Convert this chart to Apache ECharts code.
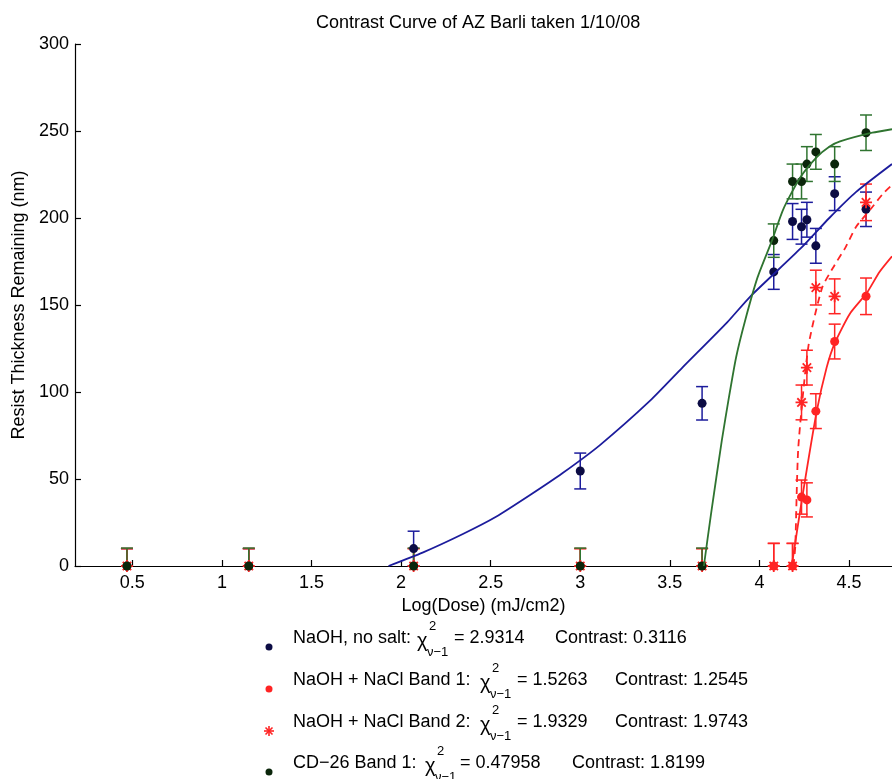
<!DOCTYPE html>
<html>
<head>
<meta charset="utf-8">
<script src="https://cdn.jsdelivr.net/npm/echarts@6/dist/echarts.min.js"></script>
<style>
  html, body { margin: 0; padding: 0; background: #fff; }
  #chart { width: 892px; height: 779px; }
</style>
</head>
<body>
<div id="chart"></div>
<script>
  // measured doses (log mJ/cm2)
  const doses = [0.47, 1.15, 2.07, 3.0, 3.68, 4.08, 4.185, 4.235, 4.265, 4.315, 4.42, 4.595];

  const noSalt = [0, 0, 10, 54.6, 93.5, 169, 198, 195, 199, 184, 214, 205];
  const noSaltErr = [10, 10, 10, 10.3, 9.6, 10, 10.3, 10, 10, 10, 9.7, 9.9];

  const bandOne = [0, 0, 0, 0, 0, 0, 0, 39.6, 38, 89, 129, 155];
  const bandOneErr = [10, 10, 10, 10, 10, 13, 13, 9.8, 9.8, 10, 10, 10.5];

  const bandTwo = [0, 0, 0, 0, 0, 0, 0, 94, 114, 160, 155, 209];
  const bandTwoErr = [10, 10, 10, 10, 10, 13, 13, 10, 10, 10, 10, 10.5];

  const cd26 = [0, 0, 0, 0, 0, 187, 221, 221, 231, 238, 231, 249];
  const cd26Err = [10.3, 10.3, 10.3, 10.3, 10.3, 9.6, 10, 10, 10, 10, 10, 10.2];

  // fitted curves
  const noSaltFit = [[1.93, 0], [2.12, 7.7], [2.345, 18.4], [2.53, 28.3], [2.72, 40.8], [2.9, 53.3],
    [3.11, 69.5], [3.39, 95], [3.57, 114], [3.82, 140], [3.95, 155], [4.23, 182.5], [4.39, 200],
    [4.54, 215], [4.74, 231]];
  const cd26Fit = [[3.69, 0], [3.73, 30], [3.79, 72], [3.83, 97], [3.87, 120], [3.92, 141], [3.99, 166],
    [4.07, 187], [4.133, 205], [4.226, 223], [4.32, 235], [4.39, 241], [4.45, 244], [4.63, 249], [4.74, 251]];
  const bandOneFit = [[4.18, 0], [4.24, 40], [4.32, 89], [4.375, 114], [4.42, 128], [4.505, 145],
    [4.6, 157], [4.67, 169], [4.74, 178]];
  const bandTwoFit = [[4.19, 0], [4.2, 11], [4.217, 68], [4.273, 126], [4.35, 160], [4.42, 173],
    [4.48, 183], [4.54, 195], [4.62, 205], [4.69, 214], [4.74, 219]];

  const xTicks = [0.5, 1, 1.5, 2, 2.5, 3, 3.5, 4, 4.5];

  // legend text
  const legendNames = ['NaOH, no salt:', 'NaOH + NaCl Band 1:', 'NaOH + NaCl Band 2:', 'CD\u221226 Band 1:'];
  const chiValues = ['2.9314', '1.5263', '1.9329', '0.47958'];
  const contrastValues = ['0.3116', '1.2545', '1.9743', '1.8199'];

  const FONT = '"Liberation Sans", Arial, Helvetica, sans-serif';
  const BLUE = '#1c1c9c';
  const BLUE_DOT = '#0c0c44';
  const RED = '#ff2424';
  const GREEN = '#2f7430';
  const GREEN_DOT = '#0b260b';
  const STAR = 'path://M5,0L5,10M0,5L10,5M1.5,1.5L8.5,8.5M1.5,8.5L8.5,1.5';

  const pts = (ys) => doses.map((d, i) => [d, ys[i]]);
  const errs = (ys, es) => doses.map((d, i) => [d, ys[i], es[i]]);

  function errorSeries(ys, es, color) {
    return {
      type: 'custom',
      data: errs(ys, es),
      encode: { x: 0, y: 1 },
      clip: true,
      silent: true,
      renderItem: function (params, api) {
        const x = api.value(0), y = api.value(1), e = api.value(2);
        const top = api.coord([x, y + e]);
        const bot = api.coord([x, y - e]);
        const w = 6;
        const style = { stroke: color, lineWidth: 1.5 };
        return {
          type: 'group',
          children: [
            { type: 'line', shape: { x1: top[0], y1: top[1], x2: bot[0], y2: bot[1] }, style: style },
            { type: 'line', shape: { x1: top[0] - w, y1: top[1], x2: top[0] + w, y2: top[1] }, style: style },
            { type: 'line', shape: { x1: bot[0] - w, y1: bot[1], x2: bot[0] + w, y2: bot[1] }, style: style },
          ],
        };
      },
    };
  }

  function fitSeries(data, color, dashed) {
    return {
      type: 'line',
      data: data,
      smooth: 0.2,
      showSymbol: false,
      silent: true,
      lineStyle: { color: color, width: 1.8, type: dashed ? [7, 5] : 'solid' },
    };
  }

  // legend rows drawn as graphic text (chi-squared needs stacked sup/sub)
  const rowY = [638, 680, 722, 763];
  const chiX = [417, 480, 480, 425];
  const eqX = [454, 517, 517, 460];
  const contrastX = [555, 615, 615, 572];
  const legendGraphics = [];
  const txt = (x, y, s, size) => ({
    type: 'text', x: x, y: y,
    style: { text: s, fill: '#000', font: size + 'px ' + FONT, textVerticalAlign: 'middle' },
  });
  legendNames.forEach((name, i) => {
    const y = rowY[i];
    legendGraphics.push(txt(293, y, name, 18));
    legendGraphics.push(txt(chiX[i], y + 3, '\u03c7', 20));
    legendGraphics.push(txt(chiX[i] + 12, y - 12, '2', 13));
    legendGraphics.push(txt(chiX[i] + 10, y + 14, '\u03bd\u22121', 13));
    legendGraphics.push(txt(eqX[i], y, '= ' + chiValues[i], 18));
    legendGraphics.push(txt(contrastX[i], y, 'Contrast: ' + contrastValues[i], 18));
  });
  const markerColors = [BLUE_DOT, RED, RED, GREEN_DOT];
  markerColors.forEach((c, i) => {
    const y = rowY[i] + 9;
    if (i === 2) {
      const s = { stroke: RED, lineWidth: 1.6 };
      legendGraphics.push({
        type: 'group', x: 269, y: y,
        children: [
          { type: 'line', shape: { x1: 0, y1: -5, x2: 0, y2: 5 }, style: s },
          { type: 'line', shape: { x1: -5, y1: 0, x2: 5, y2: 0 }, style: s },
          { type: 'line', shape: { x1: -3.5, y1: -3.5, x2: 3.5, y2: 3.5 }, style: s },
          { type: 'line', shape: { x1: -3.5, y1: 3.5, x2: 3.5, y2: -3.5 }, style: s },
        ],
      });
    } else {
      legendGraphics.push({ type: 'circle', shape: { cx: 269, cy: y, r: 3.5 }, style: { fill: c } });
    }
  });

  const chart = echarts.init(document.getElementById('chart'));
  chart.setOption({
    animation: false,
    backgroundColor: '#fff',
    textStyle: { fontFamily: FONT },
    title: {
      text: 'Contrast Curve of AZ Barli taken 1/10/08',
      left: 311,
      top: 9,
      textStyle: { fontSize: 18, fontWeight: 'normal', color: '#000', fontFamily: FONT },
    },
    grid: { left: 75, right: 0, top: 44, bottom: 213, outerBoundsMode: 'none' },
    xAxis: {
      type: 'value',
      min: 0.18,
      max: 4.74,
      name: 'Log(Dose) (mJ/cm2)',
      nameLocation: 'middle',
      nameGap: 29,
      nameTextStyle: { fontSize: 18, color: '#000', fontFamily: FONT },
      axisLine: { lineStyle: { color: '#000', width: 1.2 } },
      axisTick: { inside: true, length: 6, customValues: xTicks, lineStyle: { color: '#000', width: 1.2 } },
      axisLabel: { customValues: xTicks, fontSize: 18, color: '#000', margin: 8, fontFamily: FONT },
      splitLine: { show: false },
    },
    yAxis: {
      type: 'value',
      min: 0,
      max: 300,
      interval: 50,
      name: 'Resist Thickness Remaining (nm)',
      nameLocation: 'middle',
      nameGap: 46,
      nameTextStyle: { fontSize: 18, color: '#000', fontFamily: FONT },
      axisLine: { show: true, lineStyle: { color: '#000', width: 1.2 } },
      axisTick: { show: true, inside: true, length: 6, lineStyle: { color: '#000', width: 1.2 } },
      axisLabel: { fontSize: 18, color: '#000', margin: 6, fontFamily: FONT },
      splitLine: { show: false },
    },
    graphic: legendGraphics,
    series: [
      errorSeries(noSalt, noSaltErr, BLUE),
      { type: 'scatter', data: pts(noSalt), symbol: 'circle', symbolSize: 9, clip: false,
        itemStyle: { color: BLUE_DOT, opacity: 1 } },
      errorSeries(bandOne, bandOneErr, RED),
      { type: 'scatter', data: pts(bandOne), symbol: 'circle', symbolSize: 9, clip: false,
        itemStyle: { color: RED, opacity: 1 } },
      errorSeries(bandTwo, bandTwoErr, RED),
      { type: 'scatter', data: pts(bandTwo), symbol: STAR, symbolSize: 12, clip: false,
        itemStyle: { color: 'rgba(0,0,0,0)', borderColor: RED, borderWidth: 1.8, opacity: 1 } },
      errorSeries(cd26, cd26Err, GREEN),
      { type: 'scatter', data: pts(cd26), symbol: 'circle', symbolSize: 9, clip: false,
        itemStyle: { color: GREEN_DOT, opacity: 1 } },
      fitSeries(noSaltFit, BLUE, false),
      fitSeries(bandOneFit, RED, false),
      fitSeries(bandTwoFit, RED, true),
      fitSeries(cd26Fit, GREEN, false),
    ],
  });
</script>
</body>
</html>
